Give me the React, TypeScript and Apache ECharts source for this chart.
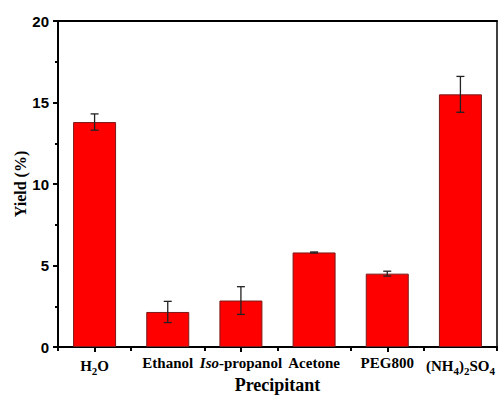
import React, { useEffect, useRef } from "react";
import * as echarts from "echarts";

const categories = ["H2O", "Ethanol", "Iso-propanol", "Acetone", "PEG800", "(NH4)2SO4"];
const yieldValues = [13.8, 2.15, 2.85, 5.8, 4.5, 15.5];
const yieldErrors = [0.5, 0.65, 0.85, 0.03, 0.15, 1.1];
const yTicks = [0, 5, 10, 15, 20];

const richLabels: Record<string, string> = {
  "H2O": "{b|H}{sub|2}{b|O}",
  "Ethanol": "{b|Ethanol}",
  "Iso-propanol": "{i|Iso}{b|-propanol}",
  "Acetone": "{b|Acetone}",
  "PEG800": "{b|PEG800}",
  "(NH4)2SO4": "{b|(NH}{sub|4}{b|)}{sub|2}{b|SO}{sub|4}",
};

const serif = "'Liberation Serif', 'Times New Roman', serif";
const sans = "'Liberation Sans', Arial, sans-serif";

export default function App() {
  const ref = useRef<HTMLDivElement>(null);
  useEffect(() => {
    if (!ref.current) return;
    const chart = echarts.init(ref.current, undefined, { renderer: "svg" });
    const option: any = {
      animation: false,
      backgroundColor: "#ffffff",
      grid: { left: 58, top: 21, right: 2, bottom: 49, containLabel: false, outerBoundsMode: "none" },
      xAxis: [
        {
          type: "category",
          position: "bottom",
          data: categories,
          axisLine: { lineStyle: { color: "#000", width: 2 } },
          axisTick: { show: true, alignWithLabel: false, length: 4, lineStyle: { color: "#000", width: 2 } },
          axisLabel: {
            margin: 8,
            interval: 0,
            formatter: (v: string) => richLabels[v] || v,
            rich: {
              b: { fontFamily: serif, fontWeight: "bold", fontSize: 15, color: "#000" },
              i: { fontFamily: serif, fontWeight: "bold", fontStyle: "italic", fontSize: 15, color: "#000" },
              sub: { fontFamily: serif, fontWeight: "bold", fontSize: 11, color: "#000", padding: [10, 0, 0, 0] },
            },
          },
          name: "Precipitant",
          nameLocation: "middle",
          nameGap: 29,
          nameMoveOverlap: false,
          nameTextStyle: { fontFamily: serif, fontWeight: "bold", fontSize: 18, color: "#000", lineHeight: 18 },
        },
        {
          type: "category",
          position: "bottom",
          data: categories,
          axisLine: { show: false },
          axisTick: { show: true, alignWithLabel: true, length: 5, lineStyle: { color: "#000", width: 2 } },
          axisLabel: { show: false },
        },
        {
          type: "category",
          position: "top",
          data: categories,
          axisLine: { lineStyle: { color: "#000", width: 2 } },
          axisTick: { show: false },
          axisLabel: { show: false },
        },
      ],
      yAxis: [
        {
          type: "value",
          position: "left",
          min: 0,
          max: 20,
          interval: 5,
          axisLine: { show: true, lineStyle: { color: "#000", width: 2 } },
          axisTick: { show: true, length: 5, lineStyle: { color: "#000", width: 2 } },
          minorTick: { show: true, splitNumber: 2, length: 3, lineStyle: { color: "#000", width: 2 } },
          splitLine: { show: false },
          axisLabel: {
            margin: 9,
            fontFamily: sans,
            fontWeight: "bold",
            fontSize: 15,
            color: "#000",
            formatter: (v: number) => (yTicks.includes(v) ? String(v) : ""),
          },
          name: "Yield (%)",
          nameLocation: "middle",
          nameGap: 30,
          nameMoveOverlap: false,
          nameRotate: 90,
          nameTextStyle: { fontFamily: serif, fontWeight: "bold", fontSize: 16, color: "#000" },
        },
        {
          type: "value",
          position: "right",
          min: 0,
          max: 20,
          interval: 5,
          axisLine: { show: true, lineStyle: { color: "#000", width: 1.5 } },
          axisTick: { show: false },
          axisLabel: { show: false },
          splitLine: { show: false },
        },
      ],
      series: [
        {
          type: "bar",
          xAxisIndex: 0,
          yAxisIndex: 0,
          data: yieldValues,
          barWidth: 43,
          itemStyle: { color: "#ff0000", borderColor: "#7a1a1a", borderWidth: 1 },
        },
        {
          type: "custom",
          xAxisIndex: 0,
          yAxisIndex: 0,
          data: yieldValues.map((v, i) => [i, v - yieldErrors[i], v + yieldErrors[i]]),
          renderItem: (params: any, api: any) => {
            const x = api.value(0);
            const lo = api.coord([x, api.value(1)]);
            const hi = api.coord([x, api.value(2)]);
            const cap = 4;
            const style = { stroke: "#222", lineWidth: 1.3 };
            return {
              type: "group",
              children: [
                { type: "line", shape: { x1: lo[0], y1: lo[1], x2: hi[0], y2: hi[1] }, style },
                { type: "line", shape: { x1: hi[0] - cap, y1: hi[1], x2: hi[0] + cap, y2: hi[1] }, style },
                { type: "line", shape: { x1: lo[0] - cap, y1: lo[1], x2: lo[0] + cap, y2: lo[1] }, style },
              ],
            };
          },
          z: 10,
        },
      ],
    };
    chart.setOption(option);
    return () => chart.dispose();
  }, []);
  return (
    <div
      ref={ref}
      style={{ position: "fixed", left: 0, top: 0, width: 499, height: 396 }}
    />
  );
}
